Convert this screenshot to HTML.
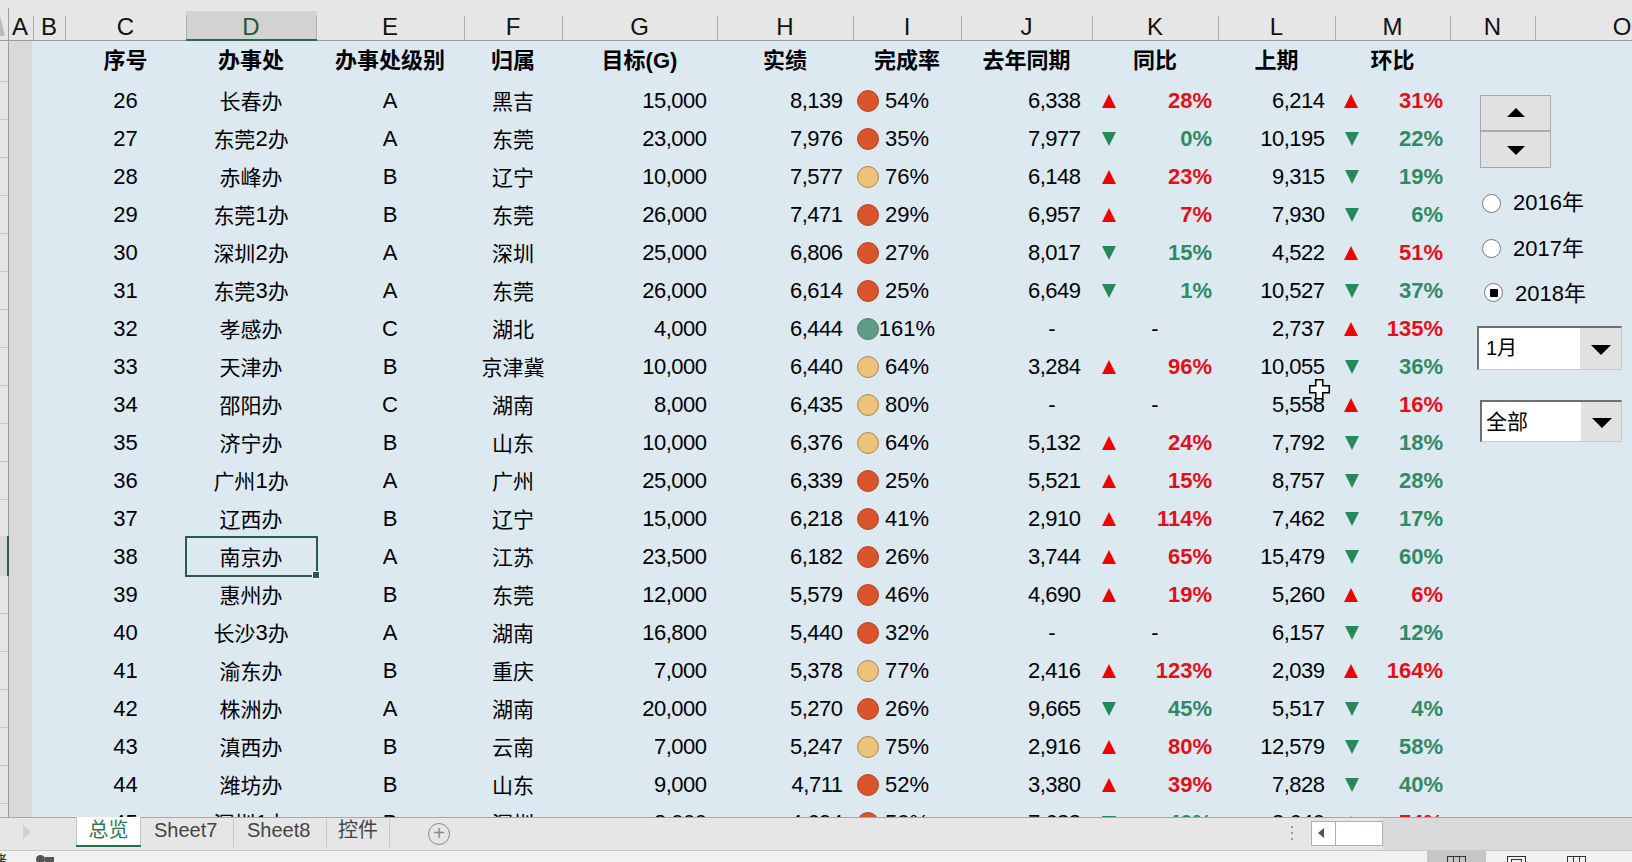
<!DOCTYPE html>
<html lang="zh-CN"><head><meta charset="utf-8"><title>总览</title>
<style>
*{box-sizing:border-box;margin:0;padding:0}
html,body{width:1632px;height:862px;overflow:hidden;background:#e6e6e6}
body{position:relative;font-family:"Liberation Sans","Noto Sans CJK SC",sans-serif;color:#000}
.a{position:absolute}
.t{position:absolute;white-space:nowrap;font-size:22px;line-height:38px;height:38px}
.c{text-align:center}
.k{position:relative;top:1px;font-size:21px}
.r{text-align:right}
.n{letter-spacing:-0.5px}
.b{font-weight:bold}
.hb{font-weight:bold}
.ch{position:absolute;top:12px;height:30px;font-size:24px;line-height:30px;text-align:center;color:#222}
.sep{position:absolute;top:16px;width:1px;height:24px;background:#adadad}
.dot{position:absolute;width:22px;height:22px;border-radius:50%}
.up{position:absolute;width:0;height:0;border-left:7px solid transparent;border-right:7px solid transparent;border-bottom:14px solid #f00000}
.dn{position:absolute;width:0;height:0;border-left:7.5px solid transparent;border-right:7.5px solid transparent;border-top:14px solid #268a58}
.rl{position:absolute;left:0;width:8px;height:1px;background:#c4c4c4}
</style></head><body>

<div class="a" style="left:0;top:0;width:1632px;height:40px;background:#e6e6e6"></div>
<div class="a" style="left:186px;top:11px;width:131px;height:29px;background:#d2d2d2"></div>
<div class="ch" style="left:8px;width:24px;color:#111">A</div>
<div class="ch" style="left:33px;width:32px;color:#111">B</div>
<div class="ch" style="left:65px;width:121px;color:#111">C</div>
<div class="ch" style="left:186px;width:130px;color:#1e5a3c">D</div>
<div class="ch" style="left:316px;width:148px;color:#111">E</div>
<div class="ch" style="left:464px;width:98px;color:#111">F</div>
<div class="ch" style="left:562px;width:155px;color:#111">G</div>
<div class="ch" style="left:717px;width:136px;color:#111">H</div>
<div class="ch" style="left:853px;width:108px;color:#111">I</div>
<div class="ch" style="left:961px;width:131px;color:#111">J</div>
<div class="ch" style="left:1092px;width:126px;color:#111">K</div>
<div class="ch" style="left:1218px;width:117px;color:#111">L</div>
<div class="ch" style="left:1335px;width:115px;color:#111">M</div>
<div class="ch" style="left:1450px;width:85px;color:#111">N</div>
<div class="ch" style="left:1535px;width:174px;color:#111">O</div>
<div class="sep" style="left:33px"></div>
<div class="sep" style="left:65px"></div>
<div class="sep" style="left:186px"></div>
<div class="sep" style="left:316px"></div>
<div class="sep" style="left:464px"></div>
<div class="sep" style="left:562px"></div>
<div class="sep" style="left:717px"></div>
<div class="sep" style="left:853px"></div>
<div class="sep" style="left:961px"></div>
<div class="sep" style="left:1092px"></div>
<div class="sep" style="left:1218px"></div>
<div class="sep" style="left:1335px"></div>
<div class="sep" style="left:1450px"></div>
<div class="sep" style="left:1535px"></div>
<div class="sep" style="left:1709px"></div>
<div class="a" style="left:0;top:40px;width:1632px;height:1px;background:#9c9c9c"></div>
<div class="a" style="left:186px;top:39px;width:131px;height:2px;background:#2c6a4e"></div>
<div class="a" style="left:0;top:16px;width:0;height:0;border-left:5px solid #b9b9b9;border-top:20px solid transparent"></div>
<div class="a" style="left:0;top:41px;width:8px;height:776px;background:#e6e6e6"></div>
<div class="a" style="left:8px;top:8px;width:1px;height:809px;background:#9c9c9c"></div>
<div class="rl" style="top:81px"></div>
<div class="rl" style="top:119px"></div>
<div class="rl" style="top:157px"></div>
<div class="rl" style="top:195px"></div>
<div class="rl" style="top:233px"></div>
<div class="rl" style="top:271px"></div>
<div class="rl" style="top:309px"></div>
<div class="rl" style="top:347px"></div>
<div class="rl" style="top:385px"></div>
<div class="rl" style="top:423px"></div>
<div class="rl" style="top:461px"></div>
<div class="rl" style="top:499px"></div>
<div class="rl" style="top:537px"></div>
<div class="rl" style="top:575px"></div>
<div class="rl" style="top:613px"></div>
<div class="rl" style="top:651px"></div>
<div class="rl" style="top:689px"></div>
<div class="rl" style="top:727px"></div>
<div class="rl" style="top:765px"></div>
<div class="rl" style="top:803px"></div>
<div class="a" style="left:0;top:536px;width:8px;height:40px;background:#d8d8d8"></div>
<div class="a" style="left:7px;top:536px;width:2px;height:40px;background:#2c5e48"></div>
<div class="a" style="left:9px;top:41px;width:24px;height:776px;background:#d9d9d9"></div>
<div class="a" style="left:32px;top:41px;width:1600px;height:776px;background:#dde9f1;overflow:hidden" id="sheet">
<div class="t c hb" style="left:33px;width:121px;top:1px;">序号</div>
<div class="t c hb" style="left:154px;width:130px;top:1px;">办事处</div>
<div class="t c hb" style="left:284px;width:148px;top:1px;">办事处级别</div>
<div class="t c hb" style="left:432px;width:98px;top:1px;">归属</div>
<div class="t c hb" style="left:530px;width:155px;top:1px;">目标(G)</div>
<div class="t c hb" style="left:685px;width:136px;top:1px;">实绩</div>
<div class="t c hb" style="left:821px;width:108px;top:1px;">完成率</div>
<div class="t c hb" style="left:929px;width:131px;top:1px;">去年同期</div>
<div class="t c hb" style="left:1060px;width:126px;top:1px;">同比</div>
<div class="t c hb" style="left:1186px;width:117px;top:1px;">上期</div>
<div class="t c hb" style="left:1303px;width:115px;top:1px;">环比</div>
<div class="t c" style="left:33px;width:121px;top:41px;">26</div>
<div class="t c" style="left:154px;width:130px;top:41px;"><span class="k">长春办</span></div>
<div class="t c" style="left:284px;width:148px;top:41px;">A</div>
<div class="t c" style="left:432px;width:98px;top:41px;"><span class="k">黑吉</span></div>
<div class="t r n" style="left:530px;width:144.5px;top:41px;">15,000</div>
<div class="t r n" style="left:685px;width:125.5px;top:41px;">8,139</div>
<div class="dot" style="left:825px;top:49px;background:#d9532b;border:1px solid #b8452a"></div>
<div class="t c" style="left:821px;width:108px;top:41px;padding-left:0">54%</div>
<div class="t r n" style="left:929px;width:119.5px;top:41px;">6,338</div>
<div class="up" style="left:1069.5px;top:53px"></div>
<div class="t r b" style="left:1060px;width:120px;top:41px;color:#e3101c">28%</div>
<div class="t r n" style="left:1186px;width:106.5px;top:41px;">6,214</div>
<div class="up" style="left:1312.3px;top:53px"></div>
<div class="t r b" style="left:1303px;width:108px;top:41px;color:#e3101c">31%</div>
<div class="t c" style="left:33px;width:121px;top:79px;">27</div>
<div class="t c" style="left:154px;width:130px;top:79px;"><span class="k">东莞</span>2<span class="k">办</span></div>
<div class="t c" style="left:284px;width:148px;top:79px;">A</div>
<div class="t c" style="left:432px;width:98px;top:79px;"><span class="k">东莞</span></div>
<div class="t r n" style="left:530px;width:144.5px;top:79px;">23,000</div>
<div class="t r n" style="left:685px;width:125.5px;top:79px;">7,976</div>
<div class="dot" style="left:825px;top:87px;background:#d9532b;border:1px solid #b8452a"></div>
<div class="t c" style="left:821px;width:108px;top:79px;padding-left:0">35%</div>
<div class="t r n" style="left:929px;width:119.5px;top:79px;">7,977</div>
<div class="dn" style="left:1069.5px;top:90.5px"></div>
<div class="t r b" style="left:1060px;width:120px;top:79px;color:#318a63">0%</div>
<div class="t r n" style="left:1186px;width:106.5px;top:79px;">10,195</div>
<div class="dn" style="left:1312.5px;top:91px"></div>
<div class="t r b" style="left:1303px;width:108px;top:79px;color:#318a63">22%</div>
<div class="t c" style="left:33px;width:121px;top:117px;">28</div>
<div class="t c" style="left:154px;width:130px;top:117px;"><span class="k">赤峰办</span></div>
<div class="t c" style="left:284px;width:148px;top:117px;">B</div>
<div class="t c" style="left:432px;width:98px;top:117px;"><span class="k">辽宁</span></div>
<div class="t r n" style="left:530px;width:144.5px;top:117px;">10,000</div>
<div class="t r n" style="left:685px;width:125.5px;top:117px;">7,577</div>
<div class="dot" style="left:825px;top:125px;background:#efc27a;border:1px solid #a88a55"></div>
<div class="t c" style="left:821px;width:108px;top:117px;padding-left:0">76%</div>
<div class="t r n" style="left:929px;width:119.5px;top:117px;">6,148</div>
<div class="up" style="left:1069.5px;top:129px"></div>
<div class="t r b" style="left:1060px;width:120px;top:117px;color:#e3101c">23%</div>
<div class="t r n" style="left:1186px;width:106.5px;top:117px;">9,315</div>
<div class="dn" style="left:1312.5px;top:129px"></div>
<div class="t r b" style="left:1303px;width:108px;top:117px;color:#318a63">19%</div>
<div class="t c" style="left:33px;width:121px;top:155px;">29</div>
<div class="t c" style="left:154px;width:130px;top:155px;"><span class="k">东莞</span>1<span class="k">办</span></div>
<div class="t c" style="left:284px;width:148px;top:155px;">B</div>
<div class="t c" style="left:432px;width:98px;top:155px;"><span class="k">东莞</span></div>
<div class="t r n" style="left:530px;width:144.5px;top:155px;">26,000</div>
<div class="t r n" style="left:685px;width:125.5px;top:155px;">7,471</div>
<div class="dot" style="left:825px;top:163px;background:#d9532b;border:1px solid #b8452a"></div>
<div class="t c" style="left:821px;width:108px;top:155px;padding-left:0">29%</div>
<div class="t r n" style="left:929px;width:119.5px;top:155px;">6,957</div>
<div class="up" style="left:1069.5px;top:167px"></div>
<div class="t r b" style="left:1060px;width:120px;top:155px;color:#e3101c">7%</div>
<div class="t r n" style="left:1186px;width:106.5px;top:155px;">7,930</div>
<div class="dn" style="left:1312.5px;top:167px"></div>
<div class="t r b" style="left:1303px;width:108px;top:155px;color:#318a63">6%</div>
<div class="t c" style="left:33px;width:121px;top:193px;">30</div>
<div class="t c" style="left:154px;width:130px;top:193px;"><span class="k">深圳</span>2<span class="k">办</span></div>
<div class="t c" style="left:284px;width:148px;top:193px;">A</div>
<div class="t c" style="left:432px;width:98px;top:193px;"><span class="k">深圳</span></div>
<div class="t r n" style="left:530px;width:144.5px;top:193px;">25,000</div>
<div class="t r n" style="left:685px;width:125.5px;top:193px;">6,806</div>
<div class="dot" style="left:825px;top:201px;background:#d9532b;border:1px solid #b8452a"></div>
<div class="t c" style="left:821px;width:108px;top:193px;padding-left:0">27%</div>
<div class="t r n" style="left:929px;width:119.5px;top:193px;">8,017</div>
<div class="dn" style="left:1069.5px;top:204.5px"></div>
<div class="t r b" style="left:1060px;width:120px;top:193px;color:#318a63">15%</div>
<div class="t r n" style="left:1186px;width:106.5px;top:193px;">4,522</div>
<div class="up" style="left:1312.3px;top:205px"></div>
<div class="t r b" style="left:1303px;width:108px;top:193px;color:#e3101c">51%</div>
<div class="t c" style="left:33px;width:121px;top:231px;">31</div>
<div class="t c" style="left:154px;width:130px;top:231px;"><span class="k">东莞</span>3<span class="k">办</span></div>
<div class="t c" style="left:284px;width:148px;top:231px;">A</div>
<div class="t c" style="left:432px;width:98px;top:231px;"><span class="k">东莞</span></div>
<div class="t r n" style="left:530px;width:144.5px;top:231px;">26,000</div>
<div class="t r n" style="left:685px;width:125.5px;top:231px;">6,614</div>
<div class="dot" style="left:825px;top:239px;background:#d9532b;border:1px solid #b8452a"></div>
<div class="t c" style="left:821px;width:108px;top:231px;padding-left:0">25%</div>
<div class="t r n" style="left:929px;width:119.5px;top:231px;">6,649</div>
<div class="dn" style="left:1069.5px;top:242.5px"></div>
<div class="t r b" style="left:1060px;width:120px;top:231px;color:#318a63">1%</div>
<div class="t r n" style="left:1186px;width:106.5px;top:231px;">10,527</div>
<div class="dn" style="left:1312.5px;top:243px"></div>
<div class="t r b" style="left:1303px;width:108px;top:231px;color:#318a63">37%</div>
<div class="t c" style="left:33px;width:121px;top:269px;">32</div>
<div class="t c" style="left:154px;width:130px;top:269px;"><span class="k">孝感办</span></div>
<div class="t c" style="left:284px;width:148px;top:269px;">C</div>
<div class="t c" style="left:432px;width:98px;top:269px;"><span class="k">湖北</span></div>
<div class="t r n" style="left:530px;width:144.5px;top:269px;">4,000</div>
<div class="t r n" style="left:685px;width:125.5px;top:269px;">6,444</div>
<div class="dot" style="left:825px;top:277px;background:#5f9c84;border:1px solid #4d7f6a"></div>
<div class="t c" style="left:821px;width:108px;top:269px;padding-left:0">161%</div>
<div class="t c" style="left:1000px;width:40px;top:269px;">-</div>
<div class="t c" style="left:1103px;width:40px;top:269px;">-</div>
<div class="t r n" style="left:1186px;width:106.5px;top:269px;">2,737</div>
<div class="up" style="left:1312.3px;top:281px"></div>
<div class="t r b" style="left:1303px;width:108px;top:269px;color:#e3101c">135%</div>
<div class="t c" style="left:33px;width:121px;top:307px;">33</div>
<div class="t c" style="left:154px;width:130px;top:307px;"><span class="k">天津办</span></div>
<div class="t c" style="left:284px;width:148px;top:307px;">B</div>
<div class="t c" style="left:432px;width:98px;top:307px;"><span class="k">京津冀</span></div>
<div class="t r n" style="left:530px;width:144.5px;top:307px;">10,000</div>
<div class="t r n" style="left:685px;width:125.5px;top:307px;">6,440</div>
<div class="dot" style="left:825px;top:315px;background:#efc27a;border:1px solid #a88a55"></div>
<div class="t c" style="left:821px;width:108px;top:307px;padding-left:0">64%</div>
<div class="t r n" style="left:929px;width:119.5px;top:307px;">3,284</div>
<div class="up" style="left:1069.5px;top:319px"></div>
<div class="t r b" style="left:1060px;width:120px;top:307px;color:#e3101c">96%</div>
<div class="t r n" style="left:1186px;width:106.5px;top:307px;">10,055</div>
<div class="dn" style="left:1312.5px;top:319px"></div>
<div class="t r b" style="left:1303px;width:108px;top:307px;color:#318a63">36%</div>
<div class="t c" style="left:33px;width:121px;top:345px;">34</div>
<div class="t c" style="left:154px;width:130px;top:345px;"><span class="k">邵阳办</span></div>
<div class="t c" style="left:284px;width:148px;top:345px;">C</div>
<div class="t c" style="left:432px;width:98px;top:345px;"><span class="k">湖南</span></div>
<div class="t r n" style="left:530px;width:144.5px;top:345px;">8,000</div>
<div class="t r n" style="left:685px;width:125.5px;top:345px;">6,435</div>
<div class="dot" style="left:825px;top:353px;background:#efc27a;border:1px solid #a88a55"></div>
<div class="t c" style="left:821px;width:108px;top:345px;padding-left:0">80%</div>
<div class="t c" style="left:1000px;width:40px;top:345px;">-</div>
<div class="t c" style="left:1103px;width:40px;top:345px;">-</div>
<div class="t r n" style="left:1186px;width:106.5px;top:345px;">5,558</div>
<div class="up" style="left:1312.3px;top:357px"></div>
<div class="t r b" style="left:1303px;width:108px;top:345px;color:#e3101c">16%</div>
<div class="t c" style="left:33px;width:121px;top:383px;">35</div>
<div class="t c" style="left:154px;width:130px;top:383px;"><span class="k">济宁办</span></div>
<div class="t c" style="left:284px;width:148px;top:383px;">B</div>
<div class="t c" style="left:432px;width:98px;top:383px;"><span class="k">山东</span></div>
<div class="t r n" style="left:530px;width:144.5px;top:383px;">10,000</div>
<div class="t r n" style="left:685px;width:125.5px;top:383px;">6,376</div>
<div class="dot" style="left:825px;top:391px;background:#efc27a;border:1px solid #a88a55"></div>
<div class="t c" style="left:821px;width:108px;top:383px;padding-left:0">64%</div>
<div class="t r n" style="left:929px;width:119.5px;top:383px;">5,132</div>
<div class="up" style="left:1069.5px;top:395px"></div>
<div class="t r b" style="left:1060px;width:120px;top:383px;color:#e3101c">24%</div>
<div class="t r n" style="left:1186px;width:106.5px;top:383px;">7,792</div>
<div class="dn" style="left:1312.5px;top:395px"></div>
<div class="t r b" style="left:1303px;width:108px;top:383px;color:#318a63">18%</div>
<div class="t c" style="left:33px;width:121px;top:421px;">36</div>
<div class="t c" style="left:154px;width:130px;top:421px;"><span class="k">广州</span>1<span class="k">办</span></div>
<div class="t c" style="left:284px;width:148px;top:421px;">A</div>
<div class="t c" style="left:432px;width:98px;top:421px;"><span class="k">广州</span></div>
<div class="t r n" style="left:530px;width:144.5px;top:421px;">25,000</div>
<div class="t r n" style="left:685px;width:125.5px;top:421px;">6,339</div>
<div class="dot" style="left:825px;top:429px;background:#d9532b;border:1px solid #b8452a"></div>
<div class="t c" style="left:821px;width:108px;top:421px;padding-left:0">25%</div>
<div class="t r n" style="left:929px;width:119.5px;top:421px;">5,521</div>
<div class="up" style="left:1069.5px;top:433px"></div>
<div class="t r b" style="left:1060px;width:120px;top:421px;color:#e3101c">15%</div>
<div class="t r n" style="left:1186px;width:106.5px;top:421px;">8,757</div>
<div class="dn" style="left:1312.5px;top:433px"></div>
<div class="t r b" style="left:1303px;width:108px;top:421px;color:#318a63">28%</div>
<div class="t c" style="left:33px;width:121px;top:459px;">37</div>
<div class="t c" style="left:154px;width:130px;top:459px;"><span class="k">辽西办</span></div>
<div class="t c" style="left:284px;width:148px;top:459px;">B</div>
<div class="t c" style="left:432px;width:98px;top:459px;"><span class="k">辽宁</span></div>
<div class="t r n" style="left:530px;width:144.5px;top:459px;">15,000</div>
<div class="t r n" style="left:685px;width:125.5px;top:459px;">6,218</div>
<div class="dot" style="left:825px;top:467px;background:#d9532b;border:1px solid #b8452a"></div>
<div class="t c" style="left:821px;width:108px;top:459px;padding-left:0">41%</div>
<div class="t r n" style="left:929px;width:119.5px;top:459px;">2,910</div>
<div class="up" style="left:1069.5px;top:471px"></div>
<div class="t r b" style="left:1060px;width:120px;top:459px;color:#e3101c">114%</div>
<div class="t r n" style="left:1186px;width:106.5px;top:459px;">7,462</div>
<div class="dn" style="left:1312.5px;top:471px"></div>
<div class="t r b" style="left:1303px;width:108px;top:459px;color:#318a63">17%</div>
<div class="t c" style="left:33px;width:121px;top:497px;">38</div>
<div class="t c" style="left:154px;width:130px;top:497px;"><span class="k">南京办</span></div>
<div class="t c" style="left:284px;width:148px;top:497px;">A</div>
<div class="t c" style="left:432px;width:98px;top:497px;"><span class="k">江苏</span></div>
<div class="t r n" style="left:530px;width:144.5px;top:497px;">23,500</div>
<div class="t r n" style="left:685px;width:125.5px;top:497px;">6,182</div>
<div class="dot" style="left:825px;top:505px;background:#d9532b;border:1px solid #b8452a"></div>
<div class="t c" style="left:821px;width:108px;top:497px;padding-left:0">26%</div>
<div class="t r n" style="left:929px;width:119.5px;top:497px;">3,744</div>
<div class="up" style="left:1069.5px;top:509px"></div>
<div class="t r b" style="left:1060px;width:120px;top:497px;color:#e3101c">65%</div>
<div class="t r n" style="left:1186px;width:106.5px;top:497px;">15,479</div>
<div class="dn" style="left:1312.5px;top:509px"></div>
<div class="t r b" style="left:1303px;width:108px;top:497px;color:#318a63">60%</div>
<div class="t c" style="left:33px;width:121px;top:535px;">39</div>
<div class="t c" style="left:154px;width:130px;top:535px;"><span class="k">惠州办</span></div>
<div class="t c" style="left:284px;width:148px;top:535px;">B</div>
<div class="t c" style="left:432px;width:98px;top:535px;"><span class="k">东莞</span></div>
<div class="t r n" style="left:530px;width:144.5px;top:535px;">12,000</div>
<div class="t r n" style="left:685px;width:125.5px;top:535px;">5,579</div>
<div class="dot" style="left:825px;top:543px;background:#d9532b;border:1px solid #b8452a"></div>
<div class="t c" style="left:821px;width:108px;top:535px;padding-left:0">46%</div>
<div class="t r n" style="left:929px;width:119.5px;top:535px;">4,690</div>
<div class="up" style="left:1069.5px;top:547px"></div>
<div class="t r b" style="left:1060px;width:120px;top:535px;color:#e3101c">19%</div>
<div class="t r n" style="left:1186px;width:106.5px;top:535px;">5,260</div>
<div class="up" style="left:1312.3px;top:547px"></div>
<div class="t r b" style="left:1303px;width:108px;top:535px;color:#e3101c">6%</div>
<div class="t c" style="left:33px;width:121px;top:573px;">40</div>
<div class="t c" style="left:154px;width:130px;top:573px;"><span class="k">长沙</span>3<span class="k">办</span></div>
<div class="t c" style="left:284px;width:148px;top:573px;">A</div>
<div class="t c" style="left:432px;width:98px;top:573px;"><span class="k">湖南</span></div>
<div class="t r n" style="left:530px;width:144.5px;top:573px;">16,800</div>
<div class="t r n" style="left:685px;width:125.5px;top:573px;">5,440</div>
<div class="dot" style="left:825px;top:581px;background:#d9532b;border:1px solid #b8452a"></div>
<div class="t c" style="left:821px;width:108px;top:573px;padding-left:0">32%</div>
<div class="t c" style="left:1000px;width:40px;top:573px;">-</div>
<div class="t c" style="left:1103px;width:40px;top:573px;">-</div>
<div class="t r n" style="left:1186px;width:106.5px;top:573px;">6,157</div>
<div class="dn" style="left:1312.5px;top:585px"></div>
<div class="t r b" style="left:1303px;width:108px;top:573px;color:#318a63">12%</div>
<div class="t c" style="left:33px;width:121px;top:611px;">41</div>
<div class="t c" style="left:154px;width:130px;top:611px;"><span class="k">渝东办</span></div>
<div class="t c" style="left:284px;width:148px;top:611px;">B</div>
<div class="t c" style="left:432px;width:98px;top:611px;"><span class="k">重庆</span></div>
<div class="t r n" style="left:530px;width:144.5px;top:611px;">7,000</div>
<div class="t r n" style="left:685px;width:125.5px;top:611px;">5,378</div>
<div class="dot" style="left:825px;top:619px;background:#efc27a;border:1px solid #a88a55"></div>
<div class="t c" style="left:821px;width:108px;top:611px;padding-left:0">77%</div>
<div class="t r n" style="left:929px;width:119.5px;top:611px;">2,416</div>
<div class="up" style="left:1069.5px;top:623px"></div>
<div class="t r b" style="left:1060px;width:120px;top:611px;color:#e3101c">123%</div>
<div class="t r n" style="left:1186px;width:106.5px;top:611px;">2,039</div>
<div class="up" style="left:1312.3px;top:623px"></div>
<div class="t r b" style="left:1303px;width:108px;top:611px;color:#e3101c">164%</div>
<div class="t c" style="left:33px;width:121px;top:649px;">42</div>
<div class="t c" style="left:154px;width:130px;top:649px;"><span class="k">株洲办</span></div>
<div class="t c" style="left:284px;width:148px;top:649px;">A</div>
<div class="t c" style="left:432px;width:98px;top:649px;"><span class="k">湖南</span></div>
<div class="t r n" style="left:530px;width:144.5px;top:649px;">20,000</div>
<div class="t r n" style="left:685px;width:125.5px;top:649px;">5,270</div>
<div class="dot" style="left:825px;top:657px;background:#d9532b;border:1px solid #b8452a"></div>
<div class="t c" style="left:821px;width:108px;top:649px;padding-left:0">26%</div>
<div class="t r n" style="left:929px;width:119.5px;top:649px;">9,665</div>
<div class="dn" style="left:1069.5px;top:660.5px"></div>
<div class="t r b" style="left:1060px;width:120px;top:649px;color:#318a63">45%</div>
<div class="t r n" style="left:1186px;width:106.5px;top:649px;">5,517</div>
<div class="dn" style="left:1312.5px;top:661px"></div>
<div class="t r b" style="left:1303px;width:108px;top:649px;color:#318a63">4%</div>
<div class="t c" style="left:33px;width:121px;top:687px;">43</div>
<div class="t c" style="left:154px;width:130px;top:687px;"><span class="k">滇西办</span></div>
<div class="t c" style="left:284px;width:148px;top:687px;">B</div>
<div class="t c" style="left:432px;width:98px;top:687px;"><span class="k">云南</span></div>
<div class="t r n" style="left:530px;width:144.5px;top:687px;">7,000</div>
<div class="t r n" style="left:685px;width:125.5px;top:687px;">5,247</div>
<div class="dot" style="left:825px;top:695px;background:#efc27a;border:1px solid #a88a55"></div>
<div class="t c" style="left:821px;width:108px;top:687px;padding-left:0">75%</div>
<div class="t r n" style="left:929px;width:119.5px;top:687px;">2,916</div>
<div class="up" style="left:1069.5px;top:699px"></div>
<div class="t r b" style="left:1060px;width:120px;top:687px;color:#e3101c">80%</div>
<div class="t r n" style="left:1186px;width:106.5px;top:687px;">12,579</div>
<div class="dn" style="left:1312.5px;top:699px"></div>
<div class="t r b" style="left:1303px;width:108px;top:687px;color:#318a63">58%</div>
<div class="t c" style="left:33px;width:121px;top:725px;">44</div>
<div class="t c" style="left:154px;width:130px;top:725px;"><span class="k">潍坊办</span></div>
<div class="t c" style="left:284px;width:148px;top:725px;">B</div>
<div class="t c" style="left:432px;width:98px;top:725px;"><span class="k">山东</span></div>
<div class="t r n" style="left:530px;width:144.5px;top:725px;">9,000</div>
<div class="t r n" style="left:685px;width:125.5px;top:725px;">4,711</div>
<div class="dot" style="left:825px;top:733px;background:#d9532b;border:1px solid #b8452a"></div>
<div class="t c" style="left:821px;width:108px;top:725px;padding-left:0">52%</div>
<div class="t r n" style="left:929px;width:119.5px;top:725px;">3,380</div>
<div class="up" style="left:1069.5px;top:737px"></div>
<div class="t r b" style="left:1060px;width:120px;top:725px;color:#e3101c">39%</div>
<div class="t r n" style="left:1186px;width:106.5px;top:725px;">7,828</div>
<div class="dn" style="left:1312.5px;top:737px"></div>
<div class="t r b" style="left:1303px;width:108px;top:725px;color:#318a63">40%</div>
<div class="t c" style="left:33px;width:121px;top:763px;">45</div>
<div class="t c" style="left:154px;width:130px;top:763px;"><span class="k">深圳</span>1<span class="k">办</span></div>
<div class="t c" style="left:284px;width:148px;top:763px;">B</div>
<div class="t c" style="left:432px;width:98px;top:763px;"><span class="k">深圳</span></div>
<div class="t r n" style="left:530px;width:144.5px;top:763px;">8,000</div>
<div class="t r n" style="left:685px;width:125.5px;top:763px;">4,694</div>
<div class="dot" style="left:825px;top:771px;background:#d9532b;border:1px solid #b8452a"></div>
<div class="t c" style="left:821px;width:108px;top:763px;padding-left:0">50%</div>
<div class="t r n" style="left:929px;width:119.5px;top:763px;">7,633</div>
<div class="dn" style="left:1069.5px;top:774.5px"></div>
<div class="t r b" style="left:1060px;width:120px;top:763px;color:#318a63">40%</div>
<div class="t r n" style="left:1186px;width:106.5px;top:763px;">8,640</div>
<div class="up" style="left:1312.3px;top:775px"></div>
<div class="t r b" style="left:1303px;width:108px;top:763px;color:#e3101c">74%</div>
</div>
<div class="a" style="left:185px;top:536px;width:133px;height:41px;border:2px solid #285c48"></div>
<div class="a" style="left:313px;top:572px;width:6px;height:6px;background:#285c48;outline:1px solid #eef"></div>
<div class="a" style="left:1480px;top:95px;width:71px;height:73px;background:#e1e1e1;border:1px solid #a4a8ad"></div>
<div class="a" style="left:1481px;top:130px;width:69px;height:2px;background:#acacac"></div>
<div class="a" style="left:1507px;top:108px;width:0;height:0;border-left:9px solid transparent;border-right:9px solid transparent;border-bottom:9px solid #000"></div>
<div class="a" style="left:1507px;top:146px;width:0;height:0;border-left:9px solid transparent;border-right:9px solid transparent;border-top:9px solid #000"></div>

<div class="a" style="left:1481.8px;top:193.5px;width:19px;height:19px;border-radius:50%;background:#fff;border:1.5px solid #7a7a7a"></div>
<div class="t" style="left:1513px;top:188px;line-height:30px;height:30px">2016年</div>
<div class="a" style="left:1481.8px;top:238.9px;width:19px;height:19px;border-radius:50%;background:#fff;border:1.5px solid #7a7a7a"></div>
<div class="t" style="left:1513px;top:234.4px;line-height:30px;height:30px">2017年</div>
<div class="a" style="left:1483.7px;top:283.2px;width:19px;height:19px;border-radius:50%;background:#fff;border:1.5px solid #7a7a7a"></div>
<div class="a" style="left:1489.7px;top:289.2px;width:8px;height:8px;background:#000;border-radius:1px"></div>
<div class="t" style="left:1515px;top:279.2px;line-height:30px;height:30px">2018年</div>
<div class="a" style="left:1477px;top:326px;width:145px;height:44px;background:#fff;border-top:2px solid #6e6e6e;border-left:2px solid #6e6e6e;border-right:1px solid #c8c8c8;border-bottom:1px solid #c8c8c8"></div>
<div class="a" style="left:1580px;top:328px;width:41px;height:41px;background:#e1e1e1"></div>
<div class="a" style="left:1591.0px;top:345.0px;width:0;height:0;border-left:10px solid transparent;border-right:10px solid transparent;border-top:10px solid #000"></div>
<div class="t" style="left:1486px;top:328px;line-height:41px;height:41px;font-size:20px">1月</div>
<div class="a" style="left:1480px;top:400px;width:142px;height:42px;background:#fff;border-top:2px solid #6e6e6e;border-left:2px solid #6e6e6e;border-right:1px solid #c8c8c8;border-bottom:1px solid #c8c8c8"></div>
<div class="a" style="left:1581px;top:402px;width:40px;height:39px;background:#e1e1e1"></div>
<div class="a" style="left:1591.5px;top:418.0px;width:0;height:0;border-left:10px solid transparent;border-right:10px solid transparent;border-top:10px solid #000"></div>
<div class="t" style="left:1486px;top:402px;line-height:39px;height:39px;font-size:21px">全部</div>
<svg class="a" style="left:1309px;top:379px" width="22" height="22" viewBox="0 0 22 22"><path d="M6.75 0.75H13.75V6.75H20.25V13.75H13.75V19.75H6.75V13.75H0.75V6.75H6.75Z" fill="#fff" stroke="#000" stroke-width="1.6"/></svg>
<div class="a" style="left:0;top:817px;width:1632px;height:33px;background:#e6e6e6;border-top:1px solid #a8a8a8"></div>
<div class="a" style="left:23px;top:825px;width:0;height:0;border-top:7px solid transparent;border-bottom:7px solid transparent;border-left:8px solid #d0d0d0"></div>
<div class="a" style="left:76px;top:817px;width:65px;height:30px;background:#fff;border-left:1px solid #c6c6c6;border-right:1px solid #c6c6c6"></div>
<div class="a" style="left:76px;top:845px;width:65px;height:2px;background:#217346"></div>
<div style="position:absolute;top:815px;height:30px;line-height:30px;font-size:20px;white-space:nowrap;left:76px;width:65px;text-align:center;color:#2f7552">总览</div>
<div style="position:absolute;top:815px;height:30px;line-height:30px;font-size:20px;white-space:nowrap;left:154px;color:#444">Sheet7</div>
<div style="position:absolute;top:815px;height:30px;line-height:30px;font-size:20px;white-space:nowrap;left:247px;color:#444">Sheet8</div>
<div style="position:absolute;top:815px;height:30px;line-height:30px;font-size:20px;white-space:nowrap;left:338px;color:#444">控件</div>
<div class="a" style="left:233px;top:819px;width:1px;height:28px;background:#c6c6c6"></div>
<div class="a" style="left:326px;top:819px;width:1px;height:28px;background:#c6c6c6"></div>
<div class="a" style="left:389px;top:819px;width:1px;height:28px;background:#c6c6c6"></div>
<div class="a" style="left:428px;top:823px;width:22px;height:22px;border-radius:50%;border:1.5px solid #8a8a8a;text-align:center;font-size:20px;line-height:18px;color:#8a8a8a">+</div>
<div class="a" style="left:1291px;top:826px;width:2px;height:2px;background:#9a9a9a"></div>
<div class="a" style="left:1291px;top:832px;width:2px;height:2px;background:#9a9a9a"></div>
<div class="a" style="left:1291px;top:838px;width:2px;height:2px;background:#9a9a9a"></div>
<div class="a" style="left:1383px;top:818px;width:249px;height:32px;background:#dadada"></div>
<div class="a" style="left:1311px;top:821px;width:72px;height:25px;background:#fff;border:1px solid #b0b0b0"></div>
<div class="a" style="left:1335px;top:822px;width:1px;height:23px;background:#b0b0b0"></div>
<div class="a" style="left:1318px;top:828px;width:0;height:0;border-top:5px solid transparent;border-bottom:5px solid transparent;border-right:6px solid #555"></div>
<div class="a" style="left:0;top:850px;width:1632px;height:12px;background:#f1f1f1;border-top:1px solid #c6c6c6"></div>
<div class="a" style="left:1427px;top:851px;width:59px;height:11px;background:#c6c6c6"></div>
<div class="a" style="left:1447px;top:856px;width:19px;height:8px;border:1px solid #333;border-bottom:none"></div>
<div class="a" style="left:1507px;top:856px;width:19px;height:8px;border:1px solid #333;border-bottom:none"></div>
<div class="a" style="left:1567px;top:856px;width:19px;height:8px;border:1px solid #333;border-bottom:none"></div>
<div class="a" style="left:1453px;top:856px;width:1px;height:6px;background:#333"></div><div class="a" style="left:1459px;top:856px;width:1px;height:6px;background:#333"></div>
<div class="a" style="left:1511px;top:859px;width:11px;height:4px;border:1px solid #333;border-bottom:none"></div>
<div class="a" style="left:1573px;top:856px;width:1px;height:6px;background:#333"></div><div class="a" style="left:1579px;top:856px;width:1px;height:6px;background:#333"></div>
<div class="a" style="left:36px;top:855px;width:9px;height:9px;border-radius:50%;background:#555"></div><div class="a" style="left:45px;top:857px;width:9px;height:6px;background:#555"></div>
<div class="a" style="left:-9px;top:854px;font-size:16px;line-height:16px;color:#333">绪</div>
</body></html>
